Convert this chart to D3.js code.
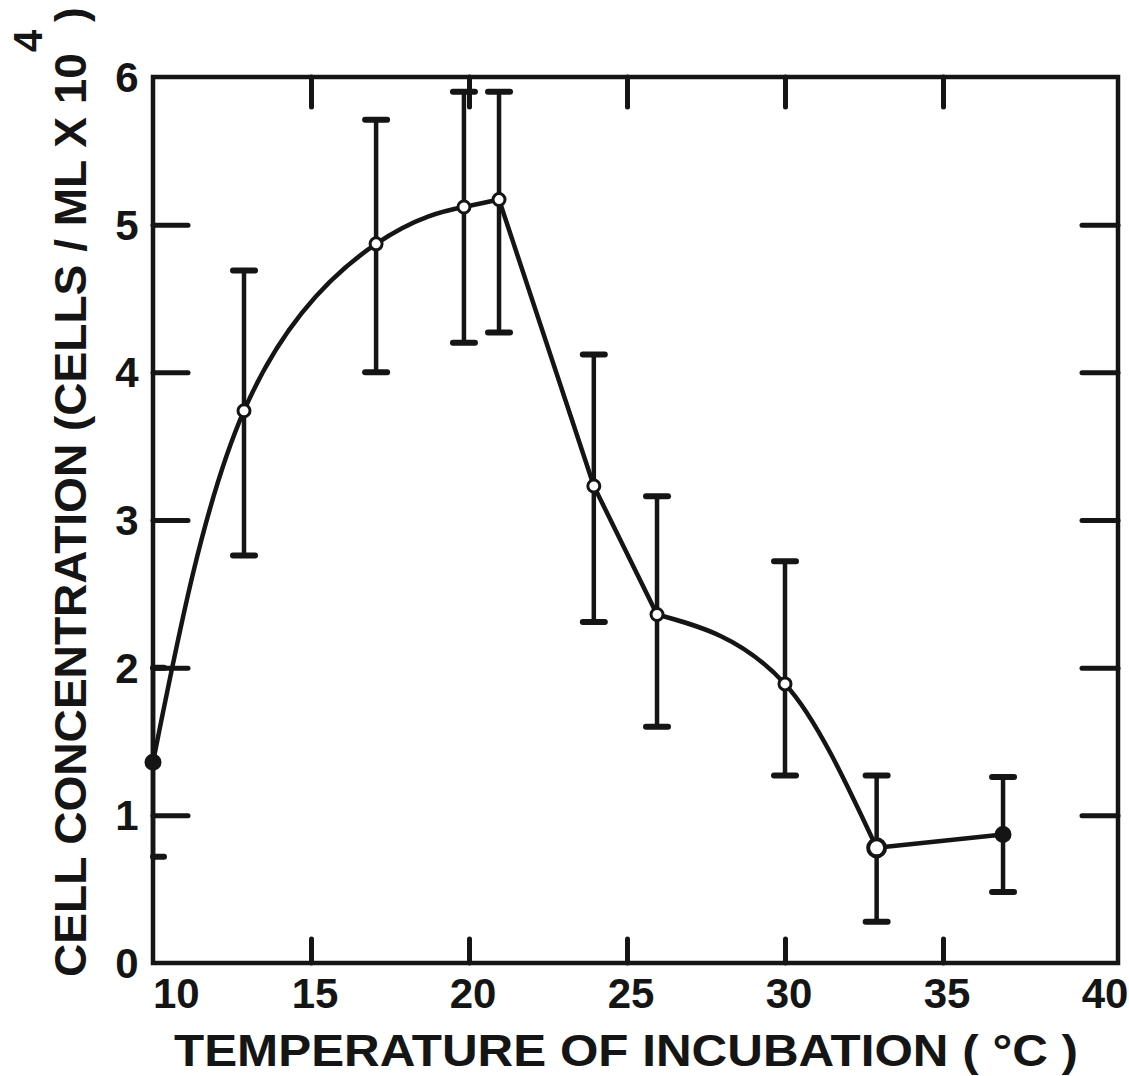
<!DOCTYPE html>
<html>
<head>
<meta charset="utf-8">
<script src="https://cdn.jsdelivr.net/npm/d3@7"></script>
<style>
    body { margin: 0; background: #fff; }
    svg text { font-family: "Liberation Sans", Arial, sans-serif; font-weight: bold; fill: #151515; }
</style>
</head>
<body>
<script>
// values
const temperature = [10, 12.88, 17.06, 19.84, 20.95, 23.95, 25.95, 30.0, 32.9, 36.9];
const concentration = [1.36, 3.74, 4.87, 5.12, 5.17, 3.23, 2.36, 1.89, 0.78, 0.87];
const err_high = [2.0, 4.69, 5.71, 5.90, 5.90, 4.12, 3.16, 2.72, 1.27, 1.26];
const err_low = [0.72, 2.76, 4.0, 4.2, 4.27, 2.31, 1.60, 1.27, 0.28, 0.48];

const temp_ticks = [10, 15, 20, 25, 30, 35, 40];
const conc_ticks = [0, 1, 2, 3, 4, 5, 6];

const x_title = "TEMPERATURE  OF INCUBATION ( °C )";
const y_title = "CELL CONCENTRATION (CELLS / ML X 10";
const y_title_exp = "4";

const width = 1129;
const height = 1076;
const ink = "#151515";

const svg = d3.select("body")
    .append("svg")
    .attr("width", width)
    .attr("height", height);

const x = d3.scaleLinear().domain([10, 40]).range([153, 1101]);
const y = d3.scaleLinear().domain([0, 6]).range([963, 77]);

const frame_left = x(10), frame_right = 1118, frame_top = y(6), frame_bottom = y(0);

const data = temperature.map((t, i) => ({
    t, c: concentration[i], hi: err_high[i], lo: err_low[i]
}));

// frame
svg.append("rect")
    .attr("x", frame_left)
    .attr("y", frame_top)
    .attr("width", frame_right - frame_left)
    .attr("height", frame_bottom - frame_top)
    .attr("fill", "none")
    .attr("stroke", ink)
    .attr("stroke-width", 4.5);

// inner ticks
const inner_x = temp_ticks.slice(1, -1);
const inner_y = conc_ticks.slice(1, -1);

svg.append("g")
    .attr("transform", `translate(0,${frame_bottom})`)
    .call(d3.axisBottom(x).tickValues(inner_x).tickSizeInner(-24).tickSizeOuter(0).tickFormat(""))
    .call(g => g.select(".domain").remove());
svg.append("g")
    .attr("transform", `translate(0,${frame_top})`)
    .call(d3.axisTop(x).tickValues(inner_x).tickSizeInner(-30).tickSizeOuter(0).tickFormat(""))
    .call(g => g.select(".domain").remove());
svg.append("g")
    .attr("transform", `translate(${frame_left},0)`)
    .call(d3.axisLeft(y).tickValues(inner_y).tickSizeInner(-35).tickSizeOuter(0).tickFormat(""))
    .call(g => g.select(".domain").remove());
svg.append("g")
    .attr("transform", `translate(${frame_right},0)`)
    .call(d3.axisRight(y).tickValues(inner_y).tickSizeInner(-36).tickSizeOuter(0).tickFormat(""))
    .call(g => g.select(".domain").remove());

svg.selectAll(".tick line")
    .attr("stroke", ink)
    .attr("stroke-width", 5)
    .attr("stroke-linecap", "round");

// tick labels
svg.append("g")
    .selectAll("text")
    .data(temp_ticks)
    .join("text")
    .attr("x", d => d === 10 ? x(d) : x(d) + 4)
    .attr("y", 1008)
    .attr("text-anchor", d => d === 10 ? "start" : "middle")
    .attr("font-size", 42)
    .text(d => d);

svg.append("g")
    .selectAll("text")
    .data(conc_ticks)
    .join("text")
    .attr("x", 127)
    .attr("y", d => y(d) + 15)
    .attr("text-anchor", "middle")
    .attr("font-size", 42)
    .text(d => d);

// axis titles
svg.append("text")
    .attr("x", 174)
    .attr("y", 1066)
    .attr("font-size", 44)
    .attr("textLength", 904)
    .attr("lengthAdjust", "spacingAndGlyphs")
    .text(x_title);

svg.append("text")
    .attr("transform", "translate(86,977) rotate(-90)")
    .attr("font-size", 44)
    .attr("textLength", 924)
    .attr("lengthAdjust", "spacingAndGlyphs")
    .text(y_title);
svg.append("text")
    .attr("transform", "translate(42,52) rotate(-90)")
    .attr("font-size", 40)
    .text(y_title_exp);
svg.append("text")
    .attr("transform", "translate(86,22) rotate(-90)")
    .attr("font-size", 44)
    .text(")");

// error bars
const bars = svg.append("g")
    .selectAll("g")
    .data(data)
    .join("g")
    .attr("stroke", ink);
bars.append("line")
    .attr("x1", d => x(d.t))
    .attr("x2", d => x(d.t))
    .attr("y1", d => y(d.hi))
    .attr("y2", d => y(d.lo))
    .attr("stroke-width", 4.5);
bars.selectAll("line.cap")
    .data(d => [[d.t, d.hi], [d.t, d.lo]])
    .join("line")
    .attr("class", "cap")
    .attr("x1", d => Math.max(x(d[0]) - 11, frame_left))
    .attr("x2", d => x(d[0]) + 11)
    .attr("y1", d => y(d[1]))
    .attr("y2", d => y(d[1]))
    .attr("stroke-width", 6)
    .attr("stroke-linecap", "round");

// fitted line: smooth rise, straight fall, smooth tail, straight end
const segments = [
    { pts: data.slice(0, 5), curve: d3.curveNatural },
    { pts: data.slice(4, 7), curve: d3.curveLinear },
    { pts: data.slice(6, 9), curve: d3.curveMonotoneX },
    { pts: data.slice(8, 10), curve: d3.curveLinear }
];
svg.append("g")
    .selectAll("path")
    .data(segments)
    .join("path")
    .attr("d", s => d3.line().x(d => x(d.t)).y(d => y(d.c)).curve(s.curve)(s.pts))
    .attr("fill", "none")
    .attr("stroke", ink)
    .attr("stroke-width", 4.5)
    .attr("stroke-linejoin", "round");

// markers
const last = data.length - 1;
svg.append("g")
    .selectAll("circle")
    .data(data)
    .join("circle")
    .attr("cx", d => x(d.t))
    .attr("cy", d => y(d.c))
    .attr("r", (d, i) => i === 8 ? 8.5 : i === 0 || i === last ? 7 : 6)
    .attr("fill", (d, i) => i === 0 || i === last ? ink : "#fff")
    .attr("stroke", ink)
    .attr("stroke-width", (d, i) => i === 8 ? 4 : 3);
</script>
</body>
</html>
